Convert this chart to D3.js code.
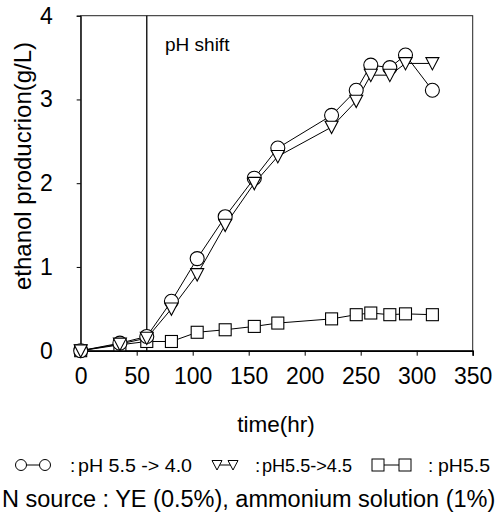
<!DOCTYPE html>
<html>
<head>
<meta charset="utf-8">
<script src="https://cdn.jsdelivr.net/npm/d3@7"></script>
<style>
  body { margin: 0; background: #fff; }
  svg { display: block; font-family: "Liberation Sans", Arial, sans-serif; }
</style>
</head>
<body>
<svg id="chart" width="496" height="524"></svg>
<script>
// sampling times (hr)
const times = [0, 35, 59, 81, 104, 129, 155, 176, 224, 246, 259, 276, 290, 314];
// ethanol (g/L)
const ph40 = [0, 0.09, 0.17, 0.59, 1.1, 1.6, 2.06, 2.42, 2.81, 3.11, 3.41, 3.38, 3.53, 3.11];
const ph45 = [0, 0.08, 0.15, 0.5, 0.91, 1.5, 2.0, 2.32, 2.67, 2.98, 3.29, 3.29, 3.43, 3.43];
const ph55 = [0, 0.07, 0.11, 0.11, 0.22, 0.25, 0.29, 0.33, 0.38, 0.43, 0.45, 0.43, 0.44, 0.43];
const xTicks = [0, 50, 100, 150, 200, 250, 300, 350];
const yTicks = [0, 1, 2, 3, 4];
const legendLabels = ['pH 5.5 -> 4.0', 'pH5.5->4.5', 'pH5.5'];
const shiftTime = 59;

const svg = d3.select('#chart');

const x = d3.scaleLinear().domain([0, 350]).range([80.7, 472.7]);
const y = d3.scaleLinear().domain([0, 4]).range([350.7, 15.7]);

// frame
svg.append('rect')
  .attr('x', x(0)).attr('y', y(4))
  .attr('width', x(350) - x(0)).attr('height', y(0) - y(4))
  .attr('fill', 'none').attr('stroke', '#222').attr('stroke-width', 1);

// axes
const xAxis = svg.append('g')
  .attr('transform', `translate(0,${y(0)})`)
  .call(d3.axisBottom(x).tickValues(xTicks).tickSize(5).tickPadding(12));
xAxis.select('.domain').attr('stroke-width', 1.6);
xAxis.selectAll('text').attr('font-size', 23).attr('font-family', null).attr('fill', '#000');

const yAxis = svg.append('g')
  .attr('transform', `translate(${x(0)},0)`)
  .call(d3.axisLeft(y).tickValues(yTicks).tickFormat(d3.format('d')).tickSize(4).tickPadding(24));
yAxis.selectAll('text').attr('font-size', 23).attr('font-family', null).attr('fill', '#000');

// pH shift line
svg.append('line')
  .attr('x1', x(shiftTime)).attr('x2', x(shiftTime))
  .attr('y1', y(0)).attr('y2', y(4))
  .attr('stroke', '#000').attr('stroke-width', 1.3);

svg.append('text')
  .attr('x', 165).attr('y', 51)
  .attr('font-size', 19)
  .text('pH shift');

// titles
svg.append('text')
  .attr('x', 276).attr('y', 432)
  .attr('text-anchor', 'middle')
  .attr('font-size', 22.5)
  .text('time(hr)');

svg.append('text')
  .attr('transform', 'translate(31,166) rotate(-90)')
  .attr('text-anchor', 'middle')
  .attr('font-size', 24)
  .text('ethanol producrion(g/L)');

// markers
const circleM = (g, cx, cy, s) => g.append('circle').attr('cx', cx).attr('cy', cy).attr('r', s / 2);
const triM = (g, cx, cy, s) => g.append('path')
  .attr('d', `M${cx - s / 2},${cy - s * 0.45}L${cx + s / 2},${cy - s * 0.45}L${cx},${cy + s * 0.5}Z`);
const sqM = (g, cx, cy, s) => g.append('rect')
  .attr('x', cx - s / 2).attr('y', cy - s / 2).attr('width', s).attr('height', s);

const series = [
  { vals: ph55, marker: sqM, size: 12 },
  { vals: ph40, marker: circleM, size: 14 },
  { vals: ph45, marker: triM, size: 13 }
];

const line = d3.line().x((d) => x(d[0])).y((d) => y(d[1]));

series.forEach((s) => {
  const pts = times.map((t, i) => [t, s.vals[i]]);
  svg.append('path')
    .attr('d', line(pts))
    .attr('fill', 'none').attr('stroke', '#000').attr('stroke-width', 1);
});

series.forEach((s) => {
  const g = svg.append('g').attr('fill', '#fff').attr('stroke', '#000').attr('stroke-width', 1.1);
  times.forEach((t, i) => s.marker(g, x(t), y(s.vals[i]), s.size));
});

// legend
const legend = [
  { marker: circleM, a: 21, b: 45, size: 11, cx: 70, tx: 78, tl: 114 },
  { marker: triM, a: 217, b: 233, size: 10, cx: 255, tx: 262, tl: 90 },
  { marker: sqM, a: 378, b: 405, size: 12, cx: 428, tx: 438, tl: 52 }
];
const ly = 465;
legend.forEach((l, i) => {
  svg.append('line')
    .attr('x1', l.a).attr('x2', l.b).attr('y1', ly).attr('y2', ly)
    .attr('stroke', '#000').attr('stroke-width', 1);
  const g = svg.append('g').attr('fill', '#fff').attr('stroke', '#000').attr('stroke-width', 1);
  l.marker(g, l.a, ly, l.size);
  l.marker(g, l.b, ly, l.size);
  svg.append('text')
    .attr('x', l.cx).attr('y', ly + 7)
    .attr('font-size', 19)
    .text(':');
  svg.append('text')
    .attr('x', l.tx).attr('y', ly + 7)
    .attr('font-size', 19)
    .attr('textLength', l.tl).attr('lengthAdjust', 'spacingAndGlyphs')
    .text(legendLabels[i]);
});

svg.append('text')
  .attr('x', 2).attr('y', 507)
  .attr('font-size', 23.5)
  .text('N source : YE (0.5%), ammonium solution (1%)');
</script>
</body>
</html>
